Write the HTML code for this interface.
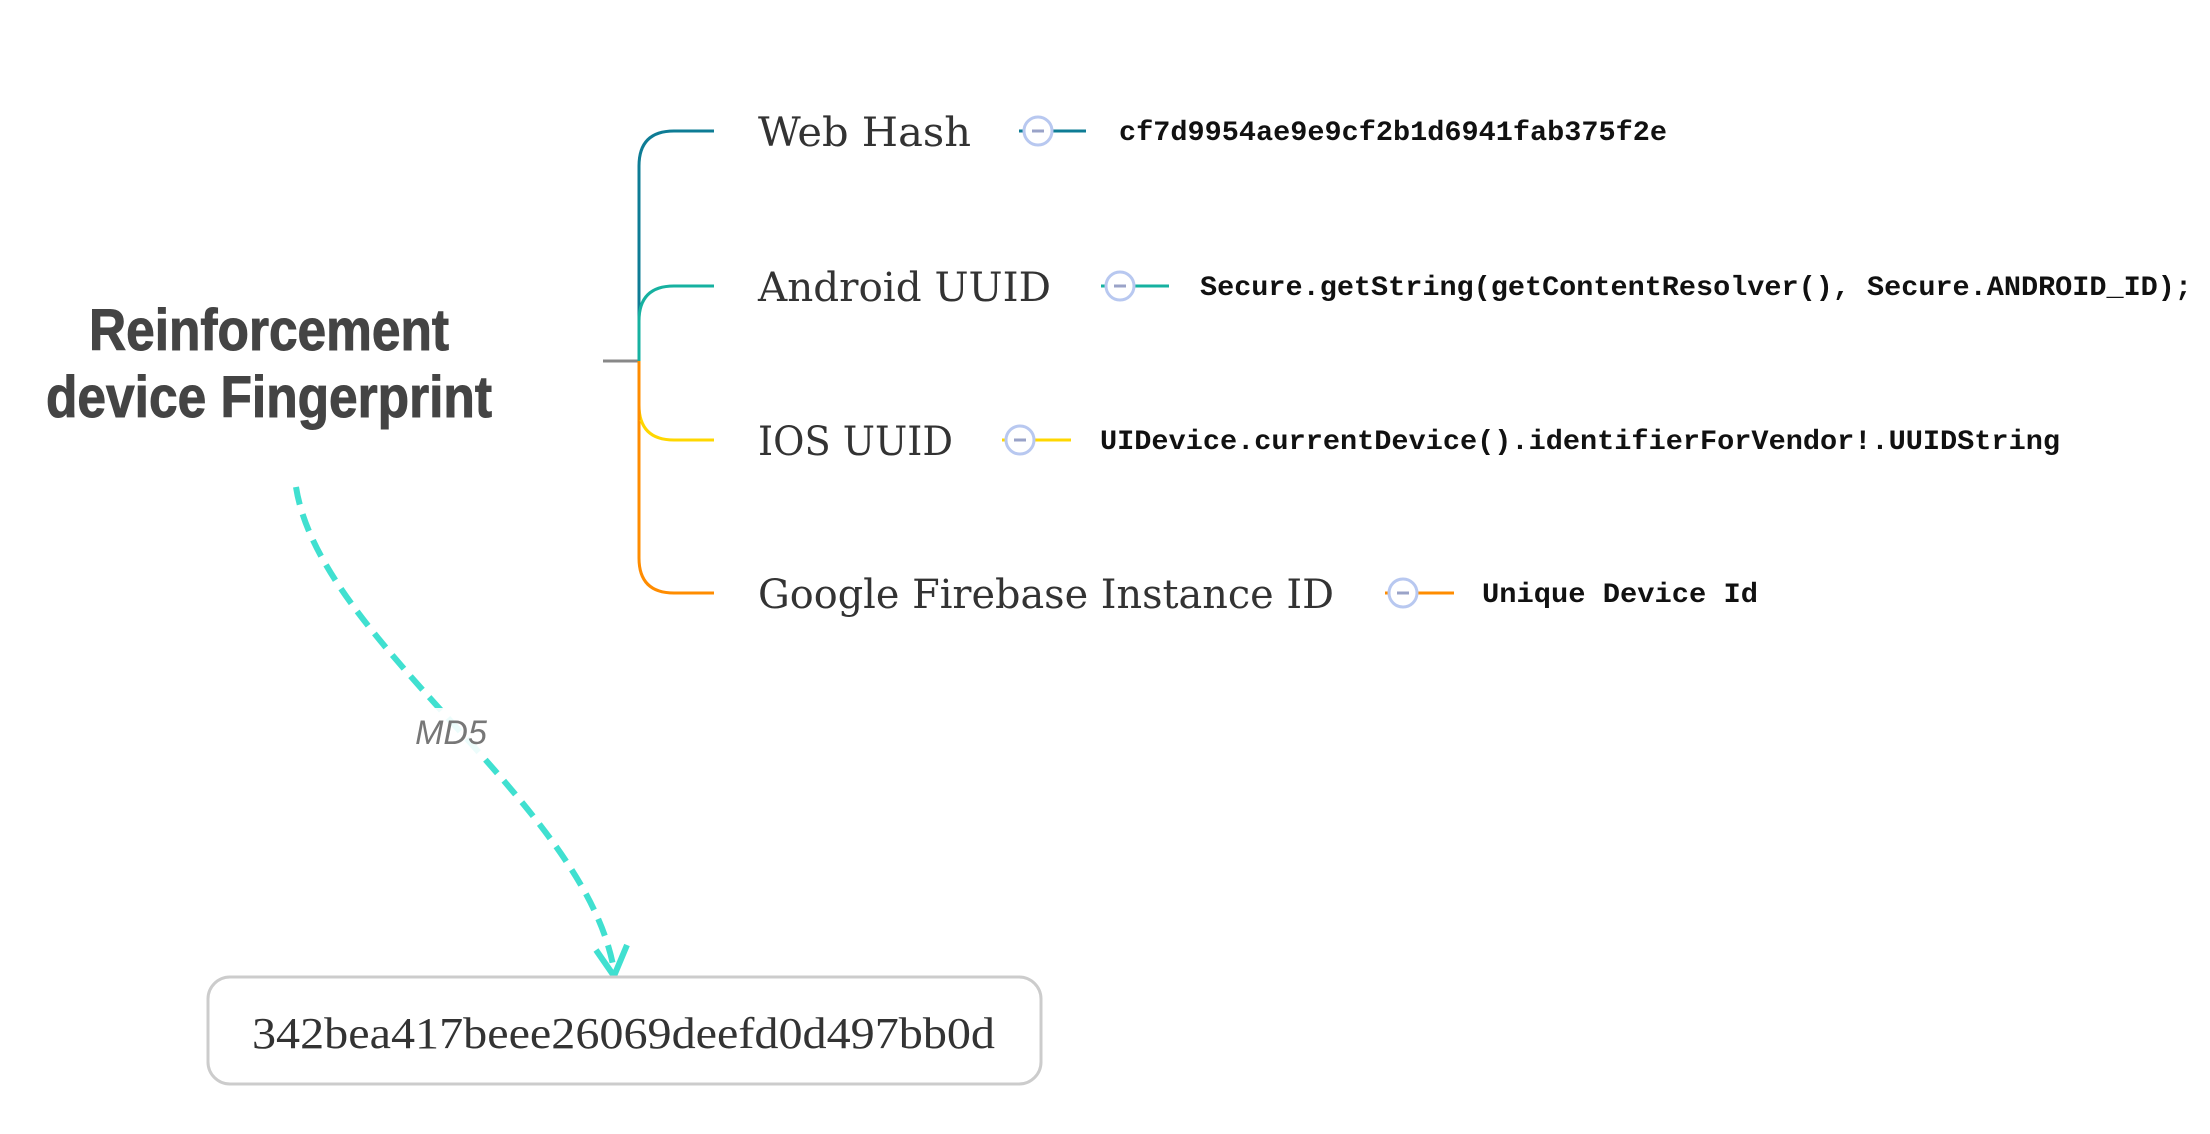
<!DOCTYPE html>
<html><head><meta charset="utf-8"><style>html,body{margin:0;padding:0;background:#fff;}svg{display:block}</style></head>
<body>
<svg width="2210" height="1134" viewBox="0 0 2210 1134" xmlns="http://www.w3.org/2000/svg">
<rect width="2210" height="1134" fill="#fff"/>
<g font-family="'Liberation Sans', sans-serif" font-weight="bold" fill="#444" font-size="58" stroke="#444" stroke-width="1">
<text x="89" y="350" textLength="360" lengthAdjust="spacingAndGlyphs">Reinforcement</text>
<text x="46" y="417" textLength="446" lengthAdjust="spacingAndGlyphs">device Fingerprint</text>
</g>
<line x1="603" y1="361" x2="639" y2="361" stroke="#888" stroke-width="3"/>
<path d="M714,131 H674 Q639,131 639,166 V361" fill="none" stroke="#0e7c95" stroke-width="3"/>
<path d="M714,286 H674 Q639,286 639,321 V361" fill="none" stroke="#16b1a0" stroke-width="3"/>
<path d="M639,361 V558 Q639,593 674,593 H714" fill="none" stroke="#ff8c00" stroke-width="3"/>
<path d="M639,361 V405 Q639,440 674,440 H714" fill="none" stroke="#ffd700" stroke-width="3"/>
<path d="M639,361 V420" fill="none" stroke="#ff8c00" stroke-width="3"/>
<g font-family="'DejaVu Serif', 'Liberation Serif', serif" fill="#333" font-size="40">
<text x="758" y="146" textLength="213" lengthAdjust="spacingAndGlyphs">Web Hash</text>
<text x="758" y="301" textLength="293" lengthAdjust="spacingAndGlyphs">Android UUID</text>
<text x="758" y="455" textLength="195" lengthAdjust="spacingAndGlyphs">IOS UUID</text>
<text x="758" y="608" textLength="576" lengthAdjust="spacingAndGlyphs">Google Firebase Instance ID</text>
</g>
<g stroke-width="3">
<line x1="1019" y1="131" x2="1086" y2="131" stroke="#0e7c95"/>
<circle cx="1038" cy="131" r="14" fill="#fff" stroke="#b8c8f0"/>
<line x1="1032" y1="131" x2="1044" y2="131" stroke="#9aa3c8"/>
<line x1="1101" y1="286" x2="1169" y2="286" stroke="#16b1a0"/>
<circle cx="1120" cy="286" r="14" fill="#fff" stroke="#b8c8f0"/>
<line x1="1114" y1="286" x2="1126" y2="286" stroke="#9aa3c8"/>
<line x1="1002" y1="440" x2="1071" y2="440" stroke="#ffd700"/>
<circle cx="1020" cy="440" r="14" fill="#fff" stroke="#b8c8f0"/>
<line x1="1014" y1="440" x2="1026" y2="440" stroke="#9aa3c8"/>
<line x1="1385" y1="593" x2="1454" y2="593" stroke="#ff8c00"/>
<circle cx="1403" cy="593" r="14" fill="#fff" stroke="#b8c8f0"/>
<line x1="1397" y1="593" x2="1409" y2="593" stroke="#9aa3c8"/>
</g>
<g font-family="'Liberation Mono', monospace" font-weight="bold" fill="#111" font-size="28">
<text x="1119" y="140" textLength="548" lengthAdjust="spacingAndGlyphs">cf7d9954ae9e9cf2b1d6941fab375f2e</text>
<text x="1200" y="295" textLength="992" lengthAdjust="spacingAndGlyphs">Secure.getString(getContentResolver(), Secure.ANDROID_ID);</text>
<text x="1100" y="449" textLength="960" lengthAdjust="spacingAndGlyphs">UIDevice.currentDevice().identifierForVendor!.UUIDString</text>
<text x="1482" y="602" textLength="276" lengthAdjust="spacingAndGlyphs">Unique Device Id</text>
</g>
<path d="M296,487 C320,640 580,800 613,965" fill="none" stroke="#40e0d0" stroke-width="6" stroke-dasharray="18,10"/>
<path d="M596,950 L614,976 L627,945" fill="none" stroke="#40e0d0" stroke-width="6"/>
<rect x="405" y="708" width="92" height="46" fill="#fff" opacity="0.9"/>
<text x="451" y="744" text-anchor="middle" font-family="'Liberation Sans', sans-serif" font-style="italic" font-size="34" fill="#777">MD5</text>
<rect x="208" y="977" width="833" height="107" rx="22" fill="#fff" stroke="#cccccc" stroke-width="3"/>
<text x="252" y="1048" font-family="'Liberation Serif', serif" font-size="44" fill="#333" textLength="743" lengthAdjust="spacingAndGlyphs">342bea417beee26069deefd0d497bb0d</text>
</svg>
</body></html>
